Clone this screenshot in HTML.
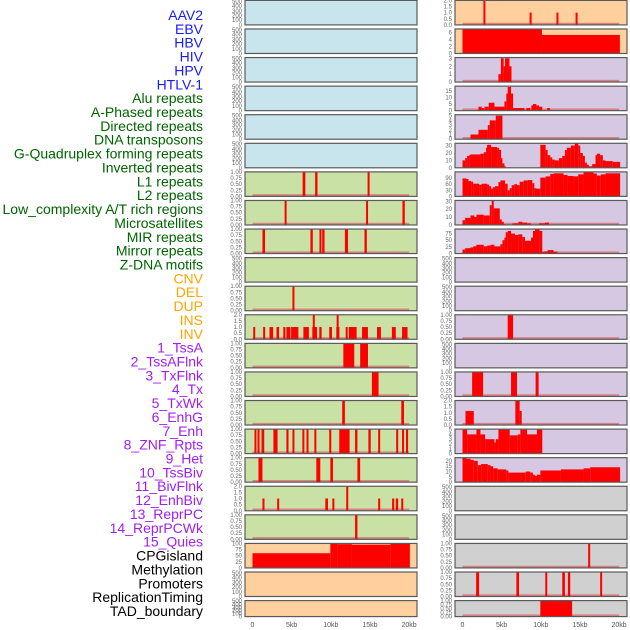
<!DOCTYPE html>
<html><head><meta charset="utf-8"><style>
html,body{margin:0;padding:0;background:#fff;}
svg{display:block;font-family:"Liberation Sans",sans-serif;}
</style></head><body>
<svg id="chart" width="630" height="630" viewBox="0 0 630 630" xmlns="http://www.w3.org/2000/svg"></svg>
<script>
// ---- track labels ----
const trackLabels=["AAV2","EBV","HBV","HIV","HPV","HTLV-1","Alu repeats","A-Phased repeats","Directed repeats","DNA transposons","G-Quadruplex forming repeats","Inverted repeats","L1 repeats","L2 repeats","Low_complexity A/T rich regions","Microsatellites","MIR repeats","Mirror repeats","Z-DNA motifs","CNV","DEL","DUP","INS","INV","1_TssA","2_TssAFlnk","3_TxFlnk","4_Tx","5_TxWk","6_EnhG","7_Enh","8_ZNF_Rpts","9_Het","10_TssBiv","11_BivFlnk","12_EnhBiv","13_ReprPC","14_ReprPCWk","15_Quies","CPGisland","Methylation","Promoters","ReplicationTiming","TAD_boundary"];
const labelGroups=[6,13,5,15,5];
const groupColors=["#1a1aff","#006400","#ffa500","#a020f0","#000000"];
const xTickValues=[0,5,10,15,20];
const xTickLabels=["0","5kb","10kb","15kb","20kb"];

// ---- left column data (kb start / end / value) ----
const L6_s=[6.4,8.0,14.7], L6_e=[6.75,8.3,14.95], L6_v=[1,1,1];
const L7_s=[4.1,14.5,19.15], L7_e=[4.3,14.7,19.45], L7_v=[1,1,1];
const L8_s=[1.27,7.4,8.55,8.9,11.8,14.3], L8_e=[1.6,7.7,8.8,9.2,12.2,14.6], L8_v=[1,1,1,1,1,1];
const L10_s=[5.1], L10_e=[5.3], L10_v=[1];
const L11_s=[0.09,1.36,2.17,3.06,3.93,4.33,4.93,6.5,7.64,8.53,9.8,10.7,11.9,12.3,13.99,15.9,17.8,19.1,7.7,10.75];
const L11_e=[0.34,1.62,2.64,3.4,4.2,4.84,5.86,7.2,8.24,8.83,10.15,11.1,12.15,13.3,14.74,16.4,18.3,19.8,7.95,11.0];
const L11_v=[1,1,1,1,1,1,1,1,1,1,1,1,1,1,1,1,1,1,2,2];
const L12_s=[11.6,13.75], L12_e=[13.0,14.75], L12_v=[1,1];
const L13_s=[15.25], L13_e=[16.1], L13_v=[1];
const L14_s=[11.45,19.0], L14_e=[11.8,19.35], L14_v=[1,1];
const L15_s=[0.25,0.64,1.15,2.67,4.33,5.1,6.37,6.9,7.9,9.8,11.08,13.1,14.8,16.05,18.35,19.1,19.6];
const L15_e=[0.5,0.9,1.5,3.2,4.6,5.3,6.6,7.1,8.15,10.06,12.4,13.4,15.1,16.3,18.6,19.35,19.87];
const L15_v=[1,1,1,1,1,1,1,1,1,1,1,1,1,1,1,1,1];
const L16_s=[0.76,8.15,9.94,13.4], L16_e=[1.27,8.66,10.28,13.75], L16_v=[1,1,1,1];
const L17_s=[1.27,3.15,9.3,10.2,11.97,16.05,17.83,18.3,19.0], L17_e=[1.53,3.4,9.64,10.45,12.2,16.3,18.1,18.6,19.2], L17_v=[1,1,1,1,2,1,1,1,1];
const L18_s=[13.1], L18_e=[13.4], L18_v=[1];
const L19_edges=[0,9.94,10.8,12.7,17.6,20.1], L19_vals=[60,100,97,95,100];

// ---- right column data ----
const R0_s=[2.67,8.57,12.0,14.44], R0_e=[2.9,8.8,12.23,14.65], R0_v=[2,1,1,1];
const R1_edges=[0,10.15,20.1], R1_vals=[7,5.3];
const R2_edges=[4.59,4.9,5.26,5.43,6.0,6.2], R2_vals=[1,3,2,3,2];
const R3_edges=[2.04,2.46,2.72,2.8,3.35,4.08,5.35,5.6,5.77,6.2,6.46,7.9,8.15,8.66,8.79,9.0,9.43,9.77,10.19,10.83,11.17];
const R3_vals=[3,2,0,3,6,3,7,13,18,13,2,0,2,0,4,5,4,3,0,2];
const R4_edges=[1.02,2.04,3.23,3.48,4.25,5.1], R4_vals=[1,2,3,4,5];
const R5_edges=[0,.34,.59,.85,1.02,2.29,2.72,3.01,3.14,3.65,4.42,4.67,4.84,5.1,5.27,5.44,9.94,10.62,10.87,11.21,11.46,11.8,12.31,12.74,13.08,13.33,13.84,14.35,14.78,15.03,15.37,15.63,15.88,16.05,16.56,16.99,17.16,17.58,17.92,18.26,19.19,20.13];
const R5_vals=[10,13,16,17,18,19,21,27,31,28,27,24,13,6,2,0,31,24,17,14,11,10,13,16,24,27,30,33,30,20,16,7,4,2,5,17,19,17,10,9,8];
const R6_edges=[0,.51,.68,1.1,1.36,2.12,2.46,3.14,3.4,3.65,3.91,4.16,4.59,4.84,5.44,5.77,6.03,6.28,6.62,6.96,7.3,7.81,8.32,8.92,9.17,9.34,9.94,10.62,11.21,11.63,12.91,13.42,14.18,14.78,15.46,16.73,17.16,17.66,18.26,20.13];
const R6_vals=[88,85,75,72,62,57,62,58,50,38,45,50,70,78,62,30,40,55,60,55,72,78,80,65,40,38,92,98,110,113,105,100,98,108,117,112,102,108,113];
const R7_edges=[0,.34,1.02,1.53,1.78,2.72,3.48,3.74,3.99,4.76,5.01,5.27,5.52,6.37,7.13,7.64,8.24,8.75,9.77,10.53,11.04];
const R7_vals=[6,9,12,10,13,12,25,31,21,7,4,1,0,2,4,3,2,0,2,3];
const R8_edges=[0,.34,1.02,1.36,1.78,2.72,3.14,3.57,4.08,4.84,5.1,5.35,5.52,5.77,6.2,6.71,7.13,7.64,7.98,8.75,9.0,9.26,9.85,10.19,10.45,10.87,11.63,12.14];
const R8_vals=[15,20,23,27,33,27,30,33,27,35,50,60,80,85,75,70,72,62,48,60,85,92,85,6,8,13,7];
const R11_s=[5.77], R11_e=[6.46], R11_v=[1];
const R13_s=[1.23,6.2,9.34], R13_e=[2.63,6.96,9.72], R13_v=[1,1,1];
const R14_s=[0.38,6.75,7.3], R14_e=[1.44,7.3,7.56], R14_v=[1.15,2,1.15];
const R15_edges=[0,.59,1.78,2.29,2.89,4.08,4.25,4.59,6.03,7.05,7.39,8.24,9.51,10.19];
const R15_vals=[5,4,5,4,3,2.3,3,5,3.8,4,5,4,5];
const R16_edges=[0,.51,1.02,1.44,1.95,2.38,3.23,3.57,3.91,4.5,5.6,5.86,8.07,8.66,9.0,9.17,9.51,9.94,12.57,15.46,16.31,20.13];
const R16_vals=[23,22,21,20,16,17,16,15,13,12,11,9,10,9,7,6,7,11,12,13,14];
const R19_s=[16.05], R19_e=[16.27], R19_v=[1];
const R20_s=[1.74,6.88,10.57,12.74,13.46,17.58], R20_e=[2.12,7.22,10.79,13.08,13.76,17.83], R20_v=[1,1,1,1,1,1];
const R21_s=[9.94], R21_e=[14.0], R21_v=[1];

// ---- tick label sets ----
const T500=["0","100","200","300","400","500"], T500v=[0,100,200,300,400,500];
const T1=["0.00","0.25","0.50","0.75","1.00"], T1v=[0,.25,.5,.75,1];
const T2=["0.0","0.5","1.0","1.5","2.0"], T2v=[0,.5,1,1.5,2];

function fromEdges(edges,vals){const s=[],e=[],v=[];for(let i=0;i<vals.length;i++){s.push(edges[i]);e.push(edges[i+1]);v.push(vals[i]);}return {s,e,v};}
function B(s,e,v){return {s,e,v};}

const BLUE="#c8e4ed",GREEN="#c9e1a5",ORANGE="#ffd09d",LAV="#d6c7e3",GRAY="#d0d0d0";
const E500={ymax:520,tv:T500v,tl:T500};
const left=[
 [BLUE,E500,null],[BLUE,E500,null],[BLUE,E500,null],[BLUE,E500,null],[BLUE,E500,null],[BLUE,E500,null],
 [GREEN,{ymax:1,tv:T1v,tl:T1},B(L6_s,L6_e,L6_v)],
 [GREEN,{ymax:1,tv:T1v,tl:T1},B(L7_s,L7_e,L7_v)],
 [GREEN,{ymax:1,tv:T1v,tl:T1},B(L8_s,L8_e,L8_v)],
 [GREEN,E500,null],
 [GREEN,{ymax:1,tv:T1v,tl:T1},B(L10_s,L10_e,L10_v)],
 [GREEN,{ymax:2,tv:T2v,tl:T2},B(L11_s,L11_e,L11_v)],
 [GREEN,{ymax:1,tv:T1v,tl:T1},B(L12_s,L12_e,L12_v)],
 [GREEN,{ymax:1,tv:T1v,tl:T1},B(L13_s,L13_e,L13_v)],
 [GREEN,{ymax:1,tv:T1v,tl:T1},B(L14_s,L14_e,L14_v)],
 [GREEN,{ymax:1,tv:T1v,tl:T1},B(L15_s,L15_e,L15_v)],
 [GREEN,{ymax:1,tv:T1v,tl:T1},B(L16_s,L16_e,L16_v)],
 [GREEN,{ymax:2,tv:T2v,tl:T2},B(L17_s,L17_e,L17_v)],
 [GREEN,{ymax:1,tv:T1v,tl:T1},B(L18_s,L18_e,L18_v)],
 [ORANGE,{ymax:100,tv:[0,25,50,75,100],tl:["0","25","50","75","100"]},fromEdges(L19_edges,L19_vals),true],
 [ORANGE,E500,null],[ORANGE,E500,null]
];
const right=[
 [ORANGE,{ymax:2,tv:T2v,tl:T2},B(R0_s,R0_e,R0_v)],
 [ORANGE,{ymax:7,tv:[0,2,4,6],tl:["0","2","4","6"]},fromEdges(R1_edges,R1_vals),true],
 [LAV,{ymax:3.1,tv:[0,1,2,3],tl:["0","1","2","3"]},fromEdges(R2_edges,R2_vals)],
 [LAV,{ymax:18.6,tv:[0,5,10,15],tl:["0","5","10","15"]},fromEdges(R3_edges,R3_vals)],
 [LAV,{ymax:5.2,tv:[0,1,2,3,4,5],tl:["0","1","2","3","4","5"]},fromEdges(R4_edges,R4_vals)],
 [LAV,{ymax:33,tv:[0,10,20,30],tl:["0","10","20","30"]},fromEdges(R5_edges,R5_vals),true],
 [LAV,{ymax:120,tv:[0,30,60,90],tl:["0","30","60","90"]},fromEdges(R6_edges,R6_vals),true],
 [LAV,{ymax:31,tv:[0,10,20,30],tl:["0","10","20","30"]},fromEdges(R7_edges,R7_vals)],
 [LAV,{ymax:92,tv:[0,25,50,75],tl:["0","25","50","75"]},fromEdges(R8_edges,R8_vals)],
 [LAV,E500,null],[LAV,E500,null],
 [LAV,{ymax:1,tv:T1v,tl:T1},B(R11_s,R11_e,R11_v)],
 [LAV,E500,null],
 [LAV,{ymax:1,tv:T1v,tl:T1},B(R13_s,R13_e,R13_v)],
 [LAV,{ymax:2,tv:T2v,tl:T2},B(R14_s,R14_e,R14_v)],
 [LAV,{ymax:5.1,tv:[0,1,2,3,4,5],tl:["0","1","2","3","4","5"]},fromEdges(R15_edges,R15_vals),true],
 [LAV,{ymax:23,tv:[0,5,10,15,20],tl:["0","5","10","15","20"]},fromEdges(R16_edges,R16_vals),true],
 [GRAY,E500,null],[GRAY,E500,null],
 [GRAY,{ymax:1,tv:T1v,tl:T1},B(R19_s,R19_e,R19_v)],
 [GRAY,{ymax:1,tv:T1v,tl:T1},B(R20_s,R20_e,R20_v)],
 [GRAY,{ymax:1,tv:T1v,tl:T1},B(R21_s,R21_e,R21_v)]
];

const svg=document.getElementById('chart');
const NS="http://www.w3.org/2000/svg";
function mk(tag,attrs,parent){const el=document.createElementNS(NS,tag);for(const k in attrs)el.setAttribute(k,attrs[k]);(parent||svg).appendChild(el);return el;}

// labels
let li=0;
labelGroups.forEach((n,g)=>{for(let k=0;k<n;k++){const y=15+li*13.86;
 const t=mk('text',{x:203,y:y+5,'text-anchor':'end','font-size':'14',fill:groupColors[g]});
 
 
 t.textContent=trackLabels[li];li++;}});

function rowTop(i){return 0.4+i*28.58;}
function drawCol(panels,x0,col){
 const W=172, xs=kb=>x0+7.5+kb*7.83;
 panels.forEach((p,i)=>{
  const [bg,ax,data,filled]=p;
  const top=rowTop(i), h=(i===21)?16:24.5, bot=top+h;
  const g=mk('g',{});
  
  
  const ys=v=>bot-(v/ax.ymax)*h;
  mk('rect',{x:x0,y:top,width:W,height:h,fill:bg},g);
  if(data){
   if(!filled){const bl=mk('line',{x1:xs(0),x2:xs(20),y1:bot-1.2,y2:bot-1.2,stroke:'#d9696b','stroke-width':2,opacity:0.75},g);
    
    }
   for(let j=0;j<data.s.length;j++){
    if(data.v[j]<=0)continue;
    const xa=xs(data.s[j]), xb=xs(data.e[j]);
    const w=Math.max(xb-xa,2);
    const r=mk('rect',{x:xa,y:ys(data.v[j]),width:w,height:bot-ys(data.v[j]),fill:'#ff0000'},g);
    
    
   }
  }
  mk('rect',{x:x0,y:top,width:W,height:h,fill:'none',stroke:'#5a5a5a','stroke-width':1.2},g);
  ax.tv.forEach((v,k)=>{const t=mk('text',{x:x0-3,y:ys(v)+2,'text-anchor':'end','font-size':'6',fill:'#666'},g);
   
   
   t.textContent=ax.tl[k];});
 });
 xTickValues.forEach((v,k)=>{const t=mk('text',{x:xs(v),y:627,'text-anchor':'middle','font-size':'7',fill:'#555'});
  
  
  t.textContent=xTickLabels[k];});
}
drawCol(left,245,'left');
drawCol(right,455,'right');
</script>
</body></html>
